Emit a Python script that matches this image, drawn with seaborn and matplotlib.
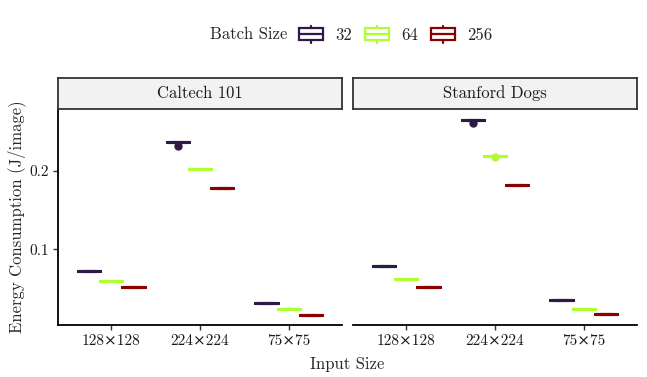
import pandas as pd
import matplotlib
matplotlib.use('Agg')
import matplotlib.pyplot as plt
import seaborn as sns
from matplotlib.legend_handler import HandlerBase
from matplotlib.patches import Rectangle, Patch
from matplotlib.lines import Line2D


sns.set_theme(style="white")
plt.rcParams['font.family'] = ['cmr10', 'DejaVu Serif']
plt.rcParams['axes.unicode_minus'] = False

datasets = ['Caltech 101', 'Stanford Dogs']
input_sizes = ['128×128', '224×224', '75×75']
batch_sizes = ['32', '64', '256']
colors = ['#2f1a45', '#adff2f', '#8b0000']

# energy per image (J) for repeated runs, one list per input size
caltech_32 = [[0.0727, 0.0727, 0.0727, 0.0727, 0.0727],
              [0.2368, 0.2368, 0.2369, 0.2369, 0.2322],
              [0.0320, 0.0320, 0.0320, 0.0320, 0.0320]]
caltech_64 = [[0.0600, 0.0600, 0.0600, 0.0600, 0.0600],
              [0.2026, 0.2026, 0.2026, 0.2025, 0.2025],
              [0.0231, 0.0231, 0.0231, 0.0231, 0.0231]]
caltech_256 = [[0.0517, 0.0517, 0.0517, 0.0517, 0.0517],
               [0.1778, 0.1778, 0.1778, 0.1778, 0.1778],
               [0.0158, 0.0158, 0.0158, 0.0158, 0.0158]]
stanford_32 = [[0.0786, 0.0786, 0.0786, 0.0786, 0.0786],
               [0.2654, 0.2654, 0.2655, 0.2655, 0.2613],
               [0.0346, 0.0346, 0.0346, 0.0346, 0.0346]]
stanford_64 = [[0.0624, 0.0624, 0.0624, 0.0624, 0.0624],
               [0.2196, 0.2196, 0.2196, 0.2196, 0.2174],
               [0.0240, 0.0240, 0.0240, 0.0240, 0.0240]]
stanford_256 = [[0.0513, 0.0513, 0.0513, 0.0513, 0.0513],
                [0.1820, 0.1820, 0.1820, 0.1820, 0.1820],
                [0.0171, 0.0171, 0.0171, 0.0171, 0.0171]]

runs = {'Caltech 101': [caltech_32, caltech_64, caltech_256],
        'Stanford Dogs': [stanford_32, stanford_64, stanford_256]}

rows = []
for name in datasets:
    for batch, per_size in zip(batch_sizes, runs[name]):
        for size, vals in zip(input_sizes, per_size):
            for v in vals:
                rows.append({'dataset': name, 'size': size, 'batch': batch, 'energy': v})
df = pd.DataFrame(rows)
palette = dict(zip(batch_sizes, colors))


class BoxHandler(HandlerBase):
    def create_artists(self, legend, orig_handle, xdescent, ydescent, width, height, fontsize, trans):
        c = orig_handle.get_edgecolor()
        x0, y0 = -xdescent, -ydescent
        lw = 1.6
        box = Rectangle((x0, y0 + height * 0.13), width, height * 0.74, facecolor='white',
                        edgecolor=c, linewidth=lw, transform=trans)
        med = Line2D([x0, x0 + width], [y0 + height / 2] * 2, color=c, linewidth=lw, transform=trans)
        w1 = Line2D([x0 + width / 2] * 2, [y0 + height * 0.87, y0 + height], color=c, linewidth=lw, transform=trans)
        w2 = Line2D([x0 + width / 2] * 2, [y0, y0 + height * 0.13], color=c, linewidth=lw, transform=trans)
        return [box, med, w1, w2]


W, H = 647, 377
fig = plt.figure(figsize=(W / 100, H / 100), dpi=100)

panel_left = [58, 353]
panel_w = 284
top, bottom = 109, 325
strip_top = 78

for i, name in enumerate(datasets):
    l = panel_left[i] / W
    ax = fig.add_axes([l, 1 - bottom / H, panel_w / W, (bottom - top) / H])
    sns.boxplot(data=df[df['dataset'] == name], x='size', y='energy', hue='batch',
                order=input_sizes, hue_order=batch_sizes, palette=palette,
                fill=False, width=0.75, gap=0, linewidth=2.2,
                flierprops=dict(marker='o', markersize=5), legend=False, ax=ax)
    for line in ax.lines:
        if line.get_marker() == 'o':
            line.set_markerfacecolor(line.get_markeredgecolor())
    ax.set_xlim(-0.6, 2.6)
    ax.set_ylim(0.0033, 0.2792)
    ax.set_xlabel('')
    ax.set_ylabel('')
    ax.set_facecolor('white')
    for s in ['top', 'right']:
        ax.spines[s].set_visible(False)
    ax.spines['bottom'].set_color('black')
    ax.spines['bottom'].set_linewidth(1.3)
    ax.tick_params(axis='x', bottom=True, direction='out', length=3.6, width=1.0,
                   color='#333333', labelsize=11, pad=3, labelcolor='#1a1a1a')
    if i == 0:
        ax.spines['left'].set_color('black')
        ax.spines['left'].set_linewidth(1.3)
        ax.set_yticks([0.1, 0.2], ['0.1', '0.2'])
        ax.tick_params(axis='y', left=True, direction='out', length=3.6, width=1.0,
                       color='#333333', labelsize=11, pad=3, labelcolor='#1a1a1a')
    else:
        ax.spines['left'].set_visible(False)
        ax.set_yticks([])

    sax = fig.add_axes([l, 1 - top / H, panel_w / W, (top - strip_top) / H])
    sax.set_facecolor('#f2f2f2')
    sax.set_xticks([])
    sax.set_yticks([])
    for s in sax.spines.values():
        s.set_visible(True)
        s.set_color('#333333')
        s.set_linewidth(1.3)
    sax.text(0.5, 0.5, name, ha='center', va='center', fontsize=12, color='#1a1a1a',
             transform=sax.transAxes)

fig.text(17 / W, 1 - 217 / H, 'Energy Consumption (J/image)', rotation=90,
         ha='center', va='center', fontsize=12)
fig.text(347.5 / W, 1 - 364 / H, 'Input Size', ha='center', va='center', fontsize=12)

fig.text(287 / W, 1 - 34.5 / H, 'Batch Size', ha='right', va='center', fontsize=12)
handles = [Patch(edgecolor=c, facecolor='white') for c in colors]
fig.legend(handles, batch_sizes, handler_map={Patch: BoxHandler()},
           loc='center left', bbox_to_anchor=(299 / W, 1 - 34.5 / H), ncol=3,
           frameon=False, fontsize=12, borderpad=0, borderaxespad=0,
           handlelength=1.45, handleheight=1.15, handletextpad=0.7, columnspacing=0.8)

fig.savefig('out.png', dpi=100)
